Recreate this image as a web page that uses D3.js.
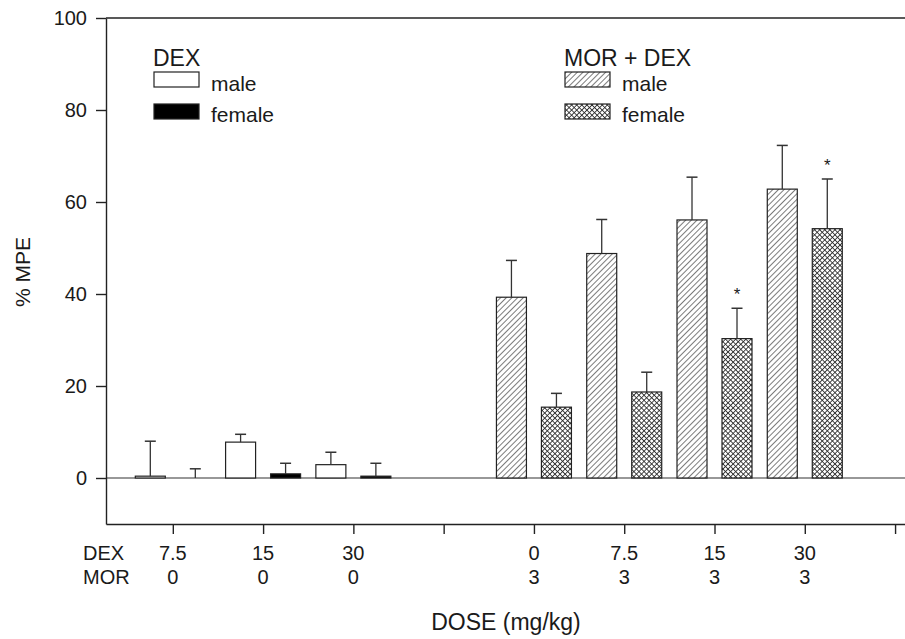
<!DOCTYPE html>
<html>
<head>
<meta charset="utf-8">
<script src="https://cdn.jsdelivr.net/npm/d3@7"></script>
<style>
  body { margin: 0; background: #fff; }
  text { font-family: "Liberation Sans", Arial, sans-serif; fill: #1a1a1a; }
</style>
</head>
<body>
<div id="chart"></div>
<script>
// data (% MPE, mean and SEM)
const groupPos = [1, 2, 3, 5, 6, 7, 8]
const dexLabels = ['7.5', '15', '30', '0', '7.5', '15', '30']
const morLabels = ['0', '0', '0', '3', '3', '3', '3']
const combo = [false, false, false, true, true, true, true]   // MOR + DEX groups
const maleMean = [0.4, 7.8, 2.9, 39.3, 48.8, 56.1, 62.8]
const maleSem = [7.6, 1.7, 2.7, 8.0, 7.4, 9.3, 9.5]
const femaleMean = [0, 0.9, 0.4, 15.4, 18.7, 30.3, 54.2]
const femaleSem = [2.0, 2.3, 2.8, 3.0, 4.3, 6.6, 10.8]
const femaleStar = [false, false, false, false, false, true, true]
const axisTicks = [1, 2, 3, 4, 5, 6, 7, 8, 9]
const yTicks = [0, 20, 40, 60, 80, 100]

const rows = groupPos.map((p, i) => [
  { pos: p, sex: 'male', mean: maleMean[i], sem: maleSem[i], combo: combo[i], star: false },
  { pos: p, sex: 'female', mean: femaleMean[i], sem: femaleSem[i], combo: combo[i], star: femaleStar[i] }
]).flat()

const width = 905, height = 639
const svg = d3.select('#chart').append('svg')
  .attr('width', width).attr('height', height)

// patterns
const defs = svg.append('defs')
const diag = defs.append('pattern').attr('id', 'diag')
  .attr('patternUnits', 'userSpaceOnUse').attr('width', 4).attr('height', 4)
  .attr('patternTransform', 'rotate(45)')
diag.append('rect').attr('width', 4).attr('height', 4).attr('fill', '#fff')
diag.append('line').attr('x1', 0).attr('y1', 0).attr('x2', 0).attr('y2', 4)
  .attr('stroke', '#444').attr('stroke-width', 1.4)

const cross = defs.append('pattern').attr('id', 'cross')
  .attr('patternUnits', 'userSpaceOnUse').attr('width', 3.6).attr('height', 3.6)
  .attr('patternTransform', 'rotate(45)')
cross.append('rect').attr('width', 3.6).attr('height', 3.6).attr('fill', '#fff')
cross.append('line').attr('x1', 0).attr('y1', 0).attr('x2', 0).attr('y2', 3.6)
  .attr('stroke', '#2a2a2a').attr('stroke-width', 1.7)
cross.append('line').attr('x1', 0).attr('y1', 0).attr('x2', 3.6).attr('y2', 0)
  .attr('stroke', '#2a2a2a').attr('stroke-width', 1.7)

const fillFor = d => d.combo ? (d.sex === 'male' ? 'url(#diag)' : 'url(#cross)')
                             : (d.sex === 'male' ? '#fff' : '#000')

// scales
const xScale = d3.scaleLinear().domain([0.26, 9.11]).range([106, 905])
const sexScale = d3.scaleBand().domain(['male', 'female'])
  .range([-37.5, 37.5]).paddingInner(1 / 3)
const yScale = d3.scaleLinear().domain([-10, 100]).range([524, 18])

// frame lines
svg.append('line').attr('x1', 106).attr('x2', 905)
  .attr('y1', yScale(100)).attr('y2', yScale(100))
  .attr('stroke', '#222').attr('stroke-width', 1.6)
svg.append('line').attr('x1', 106).attr('x2', 905)
  .attr('y1', yScale(0)).attr('y2', yScale(0))
  .attr('stroke', '#333').attr('stroke-width', 1.2)

// y axis
const yAxis = d3.axisLeft(yScale).tickValues(yTicks).tickSize(10).tickPadding(9).tickSizeOuter(0)
const yg = svg.append('g').attr('transform', 'translate(106,0)').call(yAxis)
yg.selectAll('path, line').attr('stroke', '#222').attr('stroke-width', 1.4)
yg.selectAll('text').attr('font-size', 20).attr('font-family', '"Liberation Sans", Arial, sans-serif')

// x axis
const xAxis = d3.axisBottom(xScale).tickValues(axisTicks).tickFormat('').tickSize(10).tickSizeOuter(0)
const xg = svg.append('g').attr('transform', `translate(0,${yScale(-10)})`).call(xAxis)
xg.selectAll('path, line').attr('stroke', '#222').attr('stroke-width', 1.4)

// bars
svg.append('g').selectAll('rect')
  .data(rows.filter(d => d.mean > 0))
  .join('rect')
  .attr('x', d => xScale(d.pos) + sexScale(d.sex))
  .attr('width', sexScale.bandwidth())
  .attr('y', d => yScale(d.mean))
  .attr('height', d => Math.max(1.5, yScale(0) - yScale(d.mean)))
  .attr('fill', fillFor)
  .attr('stroke', '#222').attr('stroke-width', 1.2)

// error bars
const eb = svg.append('g').selectAll('g').data(rows).join('g')
  .attr('transform', d => `translate(${xScale(d.pos) + sexScale(d.sex) + sexScale.bandwidth() / 2},0)`)
eb.append('line')
  .attr('y1', d => yScale(d.mean)).attr('y2', d => yScale(d.mean + d.sem))
  .attr('stroke', '#333').attr('stroke-width', 1.3)
eb.append('line')
  .attr('x1', -5.5).attr('x2', 5.5)
  .attr('y1', d => yScale(d.mean + d.sem)).attr('y2', d => yScale(d.mean + d.sem))
  .attr('stroke', '#333').attr('stroke-width', 1.5)
eb.filter(d => d.star).append('text')
  .attr('y', d => yScale(d.mean + d.sem) - 8)
  .attr('text-anchor', 'middle').attr('font-size', 17)
  .text('*')

// dose labels under the axis
const lab = svg.append('g').selectAll('g').data(groupPos).join('g')
  .attr('transform', d => `translate(${xScale(d)},0)`)
lab.append('text').attr('y', 560).attr('text-anchor', 'middle').attr('font-size', 20)
  .text((d, i) => dexLabels[i])
lab.append('text').attr('y', 584).attr('text-anchor', 'middle').attr('font-size', 20)
  .text((d, i) => morLabels[i])
svg.append('text').attr('x', 83).attr('y', 560).attr('font-size', 20).text('DEX')
svg.append('text').attr('x', 83).attr('y', 584).attr('font-size', 20).text('MOR')

// axis titles
svg.append('text').attr('x', 506).attr('y', 630).attr('text-anchor', 'middle')
  .attr('font-size', 23).text('DOSE (mg/kg)')
svg.append('text').attr('transform', 'translate(30,272) rotate(-90)')
  .attr('text-anchor', 'middle').attr('font-size', 21).text('% MPE')

// legends
const legends = [
  { x: 153, title: 'DEX', combo: false },
  { x: 564, title: 'MOR + DEX', combo: true }
]
legends.forEach(l => {
  const g = svg.append('g').attr('transform', `translate(${l.x},0)`)
  g.append('text').attr('x', 0).attr('y', 66).attr('font-size', 23).text(l.title)
  ;['male', 'female'].forEach((s, i) => {
    g.append('rect').attr('x', 1).attr('y', 72 + i * 32).attr('width', 45).attr('height', 15)
      .attr('fill', fillFor({ combo: l.combo, sex: s }))
      .attr('stroke', '#222').attr('stroke-width', 1.2)
    g.append('text').attr('x', 58).attr('y', 91 + i * 31).attr('font-size', 21).text(s)
  })
})
</script>
</body>
</html>
